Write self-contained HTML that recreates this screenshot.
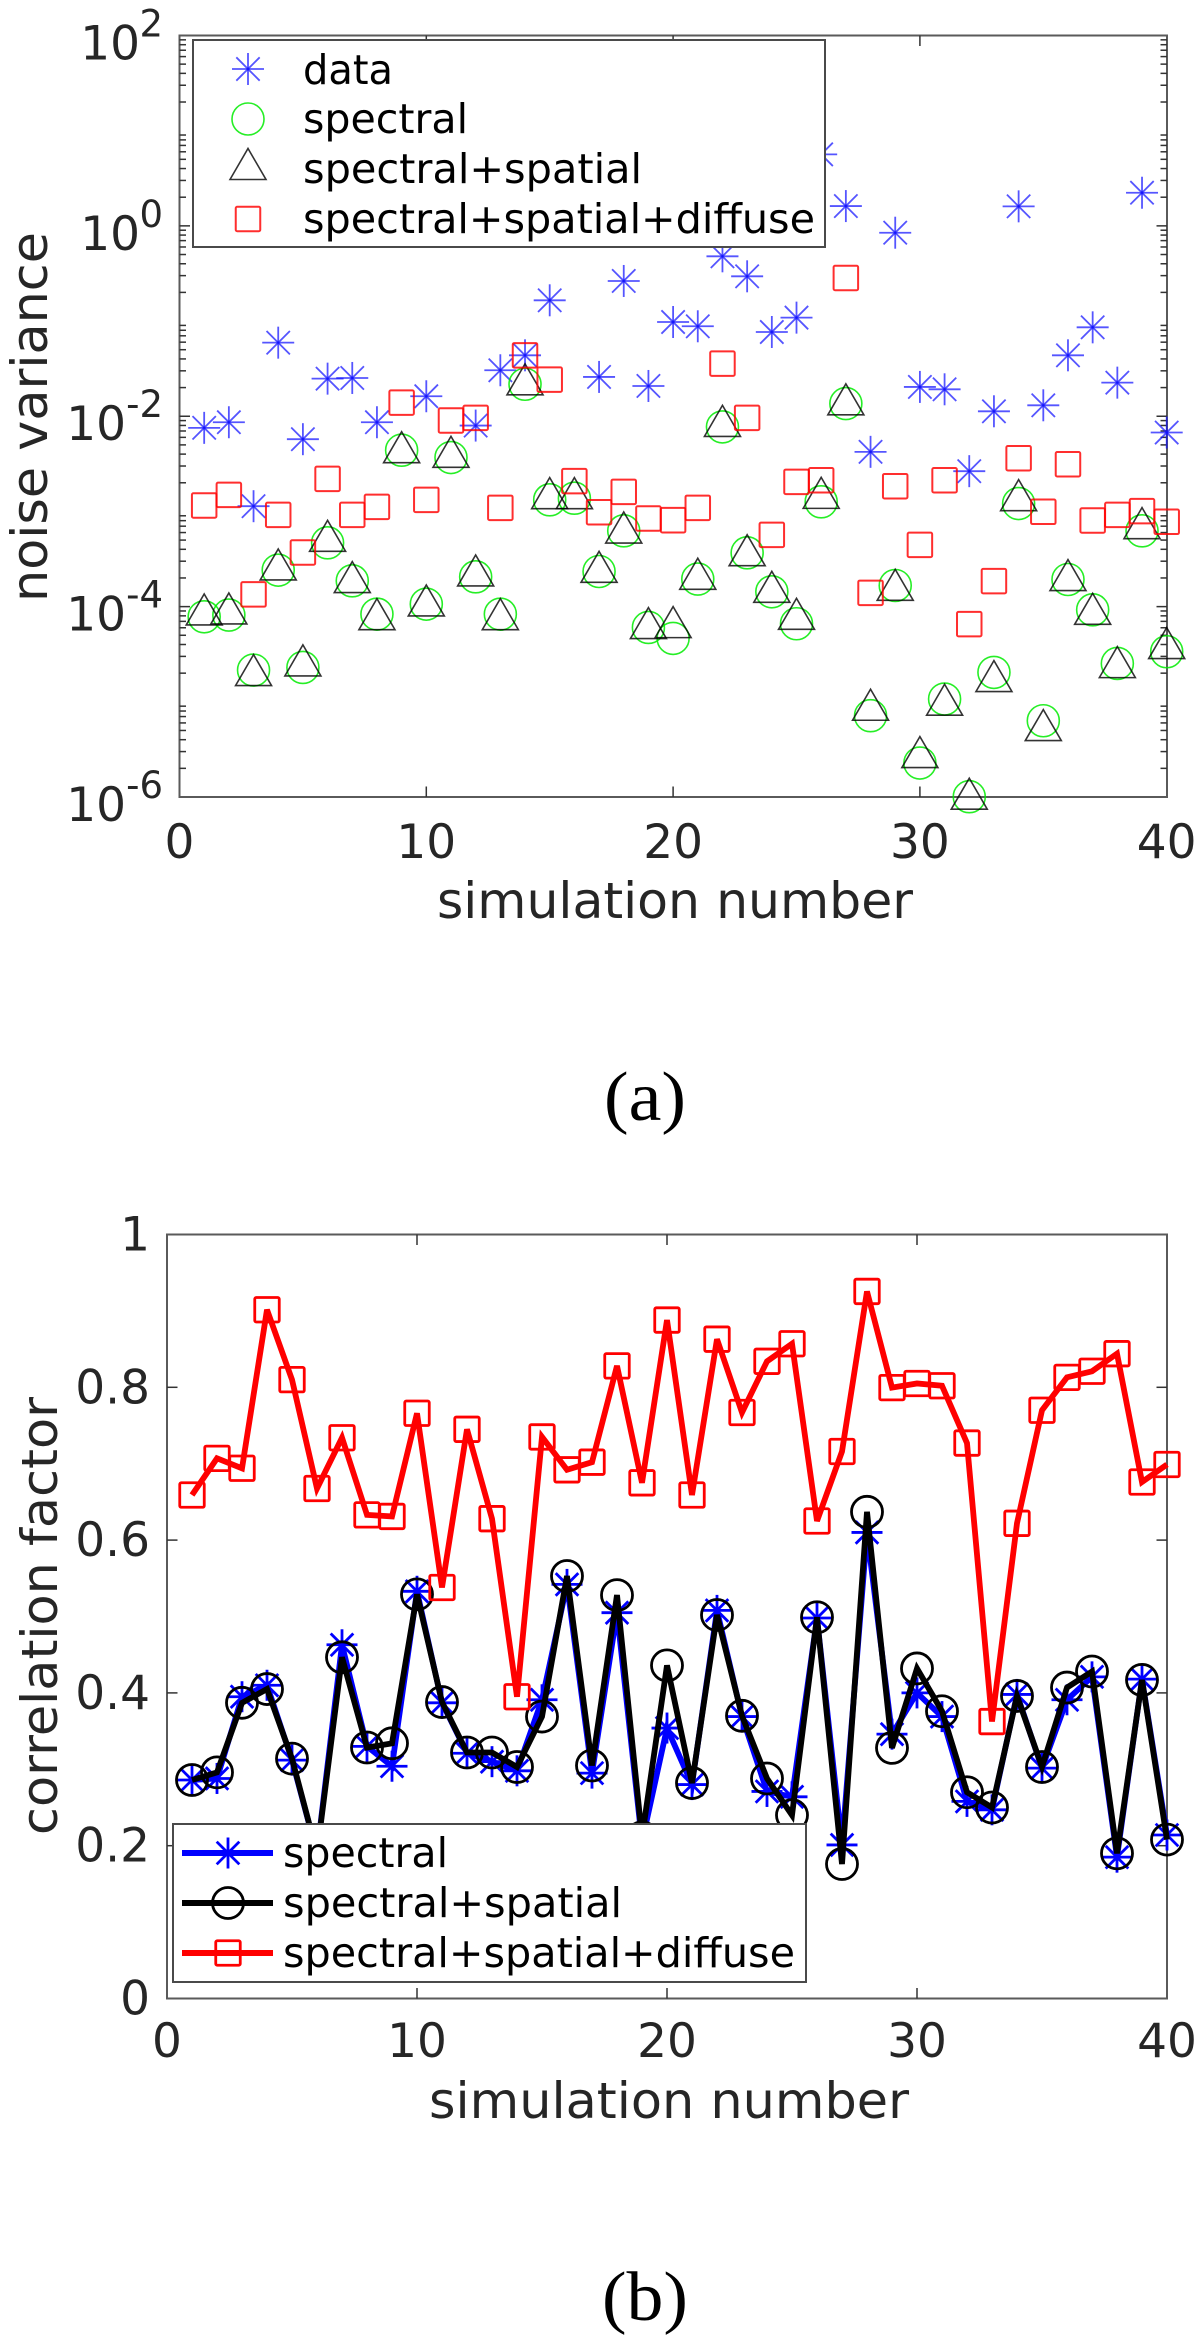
<!DOCTYPE html>
<html lang="en">
<head>
<meta charset="utf-8">
<title>Noise variance and correlation factor per simulation</title>
<style>
  html, body { margin: 0; padding: 0; background: #fff; }
  svg { display: block; }
  text { font-family: "DejaVu Sans", "Liberation Sans", sans-serif; }
  .tick { fill: #262626; font-size: 47px; }
  .sup { fill: #262626; font-size: 37px; }
  .title { fill: #262626; font-size: 50px; }
  .leg { fill: #000; font-size: 41px; }
  .cap { fill: #000; font-family: "Liberation Serif", serif; font-size: 70px; }
</style>
</head>
<body>
<svg xmlns="http://www.w3.org/2000/svg" width="1200" height="2342" viewBox="0 0 1200 2342">
  <rect x="0" y="0" width="1200" height="2342" fill="#fff"/>

  <!-- Panel A -->
  <g id="panel-a">
    <rect x="179.5" y="35.5" width="987.5" height="761.5" fill="#fff" stroke="#5a5a5a" stroke-width="2"/>
    <g id="axes-a"></g>
    <g id="marks-a"></g>
    <text class="title" x="437" y="918" textLength="476" lengthAdjust="spacingAndGlyphs">simulation number</text>
    <text class="title" transform="translate(47,602) rotate(-90)" textLength="370" lengthAdjust="spacingAndGlyphs">noise variance</text>
    <g id="legend-a">
      <rect x="193" y="40" width="632" height="207" fill="#fff" stroke="#4a4a4a" stroke-width="2"/>
      <g id="legend-a-symbols"></g>
      <text class="leg" x="303" y="84" textLength="90" lengthAdjust="spacingAndGlyphs">data</text>
      <text class="leg" x="303" y="133" textLength="165" lengthAdjust="spacingAndGlyphs">spectral</text>
      <text class="leg" x="303" y="183" textLength="339" lengthAdjust="spacingAndGlyphs">spectral+spatial</text>
      <text class="leg" x="303" y="233" textLength="512" lengthAdjust="spacingAndGlyphs">spectral+spatial+diffuse</text>
    </g>
  </g>
  <text class="cap" x="604" y="1120" textLength="82" lengthAdjust="spacingAndGlyphs">(a)</text>

  <!-- Panel B -->
  <g id="panel-b">
    <rect x="167" y="1234.5" width="1000" height="764" fill="#fff" stroke="#5a5a5a" stroke-width="2"/>
    <g id="axes-b"></g>
    <g id="marks-b"></g>
    <text class="title" x="429" y="2118" textLength="480" lengthAdjust="spacingAndGlyphs">simulation number</text>
    <text class="title" transform="translate(57,1835) rotate(-90)" textLength="438" lengthAdjust="spacingAndGlyphs">correlation factor</text>
    <g id="legend-b">
      <rect x="173" y="1824" width="633" height="158" fill="#fff" stroke="#4a4a4a" stroke-width="2"/>
      <g id="legend-b-symbols"></g>
      <text class="leg" x="283" y="1867" textLength="165" lengthAdjust="spacingAndGlyphs">spectral</text>
      <text class="leg" x="283" y="1917" textLength="339" lengthAdjust="spacingAndGlyphs">spectral+spatial</text>
      <text class="leg" x="283" y="1967" textLength="512" lengthAdjust="spacingAndGlyphs">spectral+spatial+diffuse</text>
    </g>
  </g>
  <text class="cap" x="602" y="2320" textLength="86" lengthAdjust="spacingAndGlyphs">(b)</text>
</svg>

<script>
// Panel A: log10 of noise variance, simulations 1 to 40
const simulations = [1,2,3,4,5,6,7,8,9,10,11,12,13,14,15,16,17,18,19,20,21,22,23,24,25,26,27,28,29,30,31,32,33,34,35,36,37,38,39,40];
const dataLog10 = [-2.122,-2.063,-2.945,-1.227,-2.241,-1.605,-1.598,-2.063,0.5,-1.79,0.3,-2.098,-1.517,-1.36,-0.782,0.6,-1.587,-0.579,-1.682,-1.01,-1.055,-0.32,-0.53,-1.115,-0.964,0.751,0.208,-2.374,-0.072,-1.692,-1.717,-2.577,-1.948,0.205,-1.885,-1.36,-1.066,-1.647,0.348,-2.171];
const spectralLog10 = [-4.107,-4.089,-4.667,-3.617,-4.639,-3.33,-3.729,-4.079,-2.357,-3.974,-2.434,-3.687,-4.079,-1.664,-2.878,-2.861,-3.631,-3.204,-4.219,-4.334,-3.711,-2.112,-3.435,-3.844,-4.18,-2.899,-1.867,-5.146,-3.778,-5.643,-4.971,-5.997,-4.691,-2.917,-5.199,-3.715,-4.034,-4.597,-3.204,-4.474];
const spatialLog10 = [-4.03,-4.019,-4.667,-3.557,-4.565,-3.256,-3.69,-4.079,-2.325,-3.935,-2.374,-3.62,-4.079,-1.612,-2.808,-2.808,-3.582,-3.169,-4.173,-4.163,-3.655,-2.049,-3.407,-3.792,-4.076,-2.805,-1.822,-5.031,-3.771,-5.528,-4.978,-5.965,-4.73,-2.829,-5.244,-3.669,-4.023,-4.583,-3.123,-4.383];
const diffuseLog10 = [-2.938,-2.826,-3.872,-3.036,-3.431,-2.658,-3.036,-2.952,-1.857,-2.878,-2.045,-2.017,-2.962,-1.36,-1.615,-2.682,-3.008,-2.794,-3.074,-3.092,-2.962,-1.447,-2.017,-3.246,-2.689,-2.672,-0.548,-3.855,-2.735,-3.351,-2.672,-4.184,-3.732,-2.441,-3.004,-2.504,-3.095,-3.036,-2.997,-3.109];
const decadeTicksA = [2,0,-2,-4,-6];
const minorFactors = [2,3,4,5,6,7,8,9];

// Panel B: correlation factor, simulations 1 to 40
const spectralCorr = [0.286,0.288,0.395,0.41,0.312,0.19,0.463,0.33,0.304,0.533,0.387,0.321,0.31,0.298,0.391,0.542,0.295,0.505,0.205,0.354,0.28,0.508,0.369,0.271,0.264,0.498,0.201,0.61,0.346,0.4,0.369,0.258,0.247,0.398,0.3015,0.391,0.421,0.185,0.418,0.214];
const spatialCorr = [0.286,0.296,0.387,0.405,0.314,0.19,0.4466,0.3285,0.334,0.529,0.388,0.322,0.322,0.303,0.369,0.553,0.305,0.528,0.211,0.436,0.282,0.502,0.37,0.288,0.24,0.499,0.176,0.637,0.328,0.432,0.376,0.27,0.25,0.396,0.303,0.407,0.428,0.19,0.417,0.208];
const diffuseCorr = [0.659,0.707,0.694,0.9015,0.81,0.6675,0.734,0.633,0.631,0.766,0.538,0.745,0.628,0.395,0.735,0.692,0.702,0.828,0.675,0.888,0.659,0.863,0.767,0.834,0.857,0.625,0.716,0.9255,0.7996,0.805,0.802,0.727,0.3625,0.622,0.77,0.813,0.821,0.844,0.676,0.699];
const yTicksB = [0,0.2,0.4,0.6,0.8,1];
const yTickLabelsB = ['0','0.2','0.4','0.6','0.8','1'];
const xTicks = [0,10,20,30,40];

const SVGNS = 'http://www.w3.org/2000/svg';
const BLUE_A = 'rgba(20,20,255,0.72)';
const GREEN_A = 'rgba(0,235,0,0.85)';
const BLACK_A = 'rgba(0,0,0,0.8)';
const RED_A = 'rgba(255,0,0,0.82)';

function xA(n) { return 179.5 + n * 24.68; }
function yA(e) { return 797 - (e + 6) * 95.19; }
function xB(n) { return 167 + n * 25; }
function yB(v) { return 1998.5 - v * 764; }

function make(tag, attrs, parent) {
  const node = document.createElementNS(SVGNS, tag);
  for (const k in attrs) node.setAttribute(k, attrs[k]);
  parent.appendChild(node);
  return node;
}
function segment(parent, x1, y1, x2, y2, stroke, width) {
  const s = make('line', { x1: x1, y1: y1, x2: x2, y2: y2, stroke: stroke, 'stroke-width': width }, parent);
  
  
  return s;
}
function asterisk(parent, x, y, stroke, width, r) {
  const g = make('g', {}, parent);
  const d = r * 0.73;
  segment(g, x - r, y, x + r, y, stroke, width);
  segment(g, x, y - r, x, y + r, stroke, width);
  segment(g, x - d, y - d, x + d, y + d, stroke, width);
  segment(g, x - d, y + d, x + d, y - d, stroke, width);
  return g;
}
function circle(parent, x, y, stroke, width, r) {
  return make('circle', { cx: x, cy: y, r: r, fill: 'none', stroke: stroke, 'stroke-width': width }, parent);
}
function triangle(parent, x, y, stroke, width) {
  const pts = (x - 18) + ',' + (y + 15.5) + ' ' + x + ',' + (y - 15.5) + ' ' + (x + 18) + ',' + (y + 15.5);
  return make('polygon', { points: pts, fill: 'none', stroke: stroke, 'stroke-width': width }, parent);
}
function square(parent, x, y, stroke, width, side) {
  return make('rect', { x: x - side / 2, y: y - side / 2, width: side, height: side, rx: 1.5, fill: 'none', stroke: stroke, 'stroke-width': width }, parent);
}

// ---------- Axes A ----------
const axesA = document.getElementById('axes-a');
xTicks.forEach(function (t) {
  if (t > 0 && t < 40) {
    const top = segment(axesA, xA(t), 35.5, xA(t), 46, '#333', 1.5);
    
    const bot = segment(axesA, xA(t), 797, xA(t), 786.5, '#333', 1.5);
    
  }
  const label = make('text', { class: 'tick', x: xA(t), y: 858, 'text-anchor': 'middle' }, axesA);
  label.textContent = String(t);
  
  
});
for (let e = -6; e <= 2; e++) {
  if (e < 2) {
    minorFactors.forEach(function (f) {
      const y = yA(e + Math.log10(f));
      const l = segment(axesA, 179.5, y, 186, y, '#333', 1.5);
      
      const r = segment(axesA, 1167, y, 1160.5, y, '#333', 1.5);
      
    });
  }
}
decadeTicksA.forEach(function (e) {
  const y = yA(e);
  if (e % 2 === 0 && e > -6 && e < 2) {
    const l = segment(axesA, 179.5, y, 190, y, '#333', 1.5);
    
    const r = segment(axesA, 1167, y, 1156.5, y, '#333', 1.5);
    
  }
  const base = make('text', { class: 'tick', x: e < 0 ? 126 : 140, y: y + 24, 'text-anchor': 'end' }, axesA);
  base.textContent = '10';
  
  
  const sup = make('text', { class: 'sup', x: 163, y: y + 1, 'text-anchor': 'end' }, axesA);
  sup.textContent = String(e);
  
  
});

// ---------- Marks A ----------
const marksA = document.getElementById('marks-a');
simulations.forEach(function (n, i) {
  const m = asterisk(marksA, xA(n), yA(dataLog10[i]), BLUE_A, 1.8, 16);
  
  
});
simulations.forEach(function (n, i) {
  const m = circle(marksA, xA(n), yA(spectralLog10[i]), GREEN_A, 1.6, 16);
  
  
});
simulations.forEach(function (n, i) {
  const m = triangle(marksA, xA(n), yA(spatialLog10[i]), BLACK_A, 1.6);
  
  
});
simulations.forEach(function (n, i) {
  const m = square(marksA, xA(n), yA(diffuseLog10[i]), RED_A, 2, 24.5);
  
  
});

// ---------- Legend symbols A ----------
const legA = document.getElementById('legend-a-symbols');
const legA1 = asterisk(legA, 248, 69, BLUE_A, 1.8, 16);


const legA2 = circle(legA, 248, 119, GREEN_A, 1.6, 16);


const legA3 = triangle(legA, 248, 164, BLACK_A, 1.6);


const legA4 = square(legA, 248, 219, RED_A, 2, 24.5);



// ---------- Axes B ----------
const axesB = document.getElementById('axes-b');
xTicks.forEach(function (t) {
  if (t > 0 && t < 40) {
    const top = segment(axesB, xB(t), 1234.5, xB(t), 1245, '#333', 1.5);
    
    const bot = segment(axesB, xB(t), 1998.5, xB(t), 1988, '#333', 1.5);
    
  }
  const label = make('text', { class: 'tick', x: xB(t), y: 2057, 'text-anchor': 'middle' }, axesB);
  label.textContent = String(t);
  
  
});
yTicksB.forEach(function (v, i) {
  const y = yB(v);
  if (v > 0 && v < 1) {
    const l = segment(axesB, 167, y, 177.5, y, '#333', 1.5);
    
    const r = segment(axesB, 1167, y, 1156.5, y, '#333', 1.5);
    
  }
  const label = make('text', { class: 'tick', x: 150, y: y + 16, 'text-anchor': 'end' }, axesB);
  label.textContent = yTickLabelsB[i];
  
  
});

// ---------- Marks B ----------
const marksB = document.getElementById('marks-b');
function polyline(values, stroke, name) {
  const pts = simulations.map(function (n, i) { return xB(n) + ',' + yB(values[i]); }).join(' ');
  const line = make('polyline', { points: pts, fill: 'none', stroke: stroke, 'stroke-width': 5.8, 'stroke-linejoin': 'miter' }, marksB);
  
  
}
polyline(spectralCorr, '#0000ff', 'spectral-line');
simulations.forEach(function (n, i) {
  const m = asterisk(marksB, xB(n), yB(spectralCorr[i]), '#0000ff', 2.8, 15.5);
  
  
});
polyline(spatialCorr, '#000', 'spectral-spatial-line');
simulations.forEach(function (n, i) {
  const m = circle(marksB, xB(n), yB(spatialCorr[i]), '#000', 2.8, 15.5);
  
  
});
polyline(diffuseCorr, '#ff0000', 'spectral-spatial-diffuse-line');
simulations.forEach(function (n, i) {
  const m = square(marksB, xB(n), yB(diffuseCorr[i]), '#ff0000', 2.8, 24.5);
  
  
});

// ---------- Legend symbols B ----------
const legB = document.getElementById('legend-b-symbols');
const lb1 = segment(legB, 182, 1853, 273, 1853, '#0000ff', 6);

const lb2 = asterisk(legB, 228, 1853, '#0000ff', 2.8, 15.5);


const lb3 = segment(legB, 182, 1903, 273, 1903, '#000', 6);

const lb4 = circle(legB, 228, 1903, '#000', 2.8, 15.5);


const lb5 = segment(legB, 182, 1953, 273, 1953, '#ff0000', 6);

const lb6 = square(legB, 228, 1953, '#ff0000', 2.8, 24.5);


</script>
</body>
</html>
